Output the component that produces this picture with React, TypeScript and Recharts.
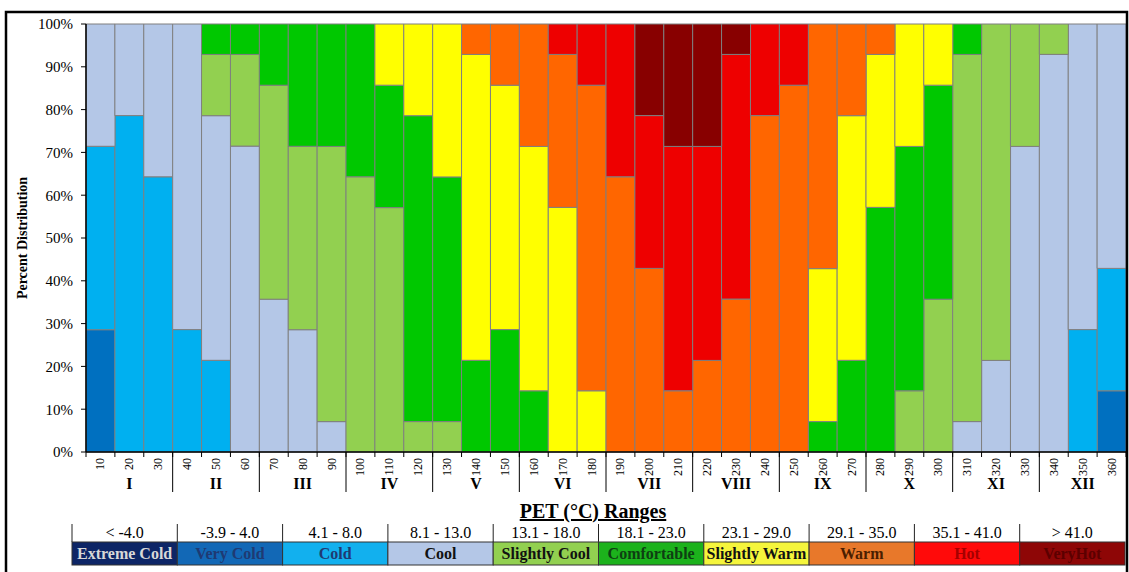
import React from "react";
import { BarChart, Bar, XAxis, YAxis } from "recharts";

// Day-of-year steps (10-day intervals) and month numerals
const days = [10, 20, 30, 40, 50, 60, 70, 80, 90, 100, 110, 120, 130, 140, 150, 160, 170, 180,
  190, 200, 210, 220, 230, 240, 250, 260, 270, 280, 290, 300, 310, 320, 330, 340, 350, 360];
const months = ["I", "II", "III", "IV", "V", "VI", "VII", "VIII", "IX", "X", "XI", "XII"];

// Percent of years falling in each PET class, per 10-day step
const extremeCold = [0, 0, 0, 0, 0, 0, 0, 0, 0, 0, 0, 0, 0, 0, 0, 0, 0, 0,
  0, 0, 0, 0, 0, 0, 0, 0, 0, 0, 0, 0, 0, 0, 0, 0, 0, 0];
const veryCold = [28.6, 0, 0, 0, 0, 0, 0, 0, 0, 0, 0, 0, 0, 0, 0, 0, 0, 0,
  0, 0, 0, 0, 0, 0, 0, 0, 0, 0, 0, 0, 0, 0, 0, 0, 0, 14.3];
const cold = [42.9, 78.6, 64.3, 28.6, 21.4, 0, 0, 0, 0, 0, 0, 0, 0, 0, 0, 0, 0, 0,
  0, 0, 0, 0, 0, 0, 0, 0, 0, 0, 0, 0, 0, 0, 0, 0, 28.6, 28.6];
const cool = [28.6, 21.4, 35.7, 71.4, 57.1, 71.4, 35.7, 28.6, 7.1, 0, 0, 0, 0, 0, 0, 0, 0, 0,
  0, 0, 0, 0, 0, 0, 0, 0, 0, 0, 0, 0, 7.1, 21.4, 71.4, 92.9, 71.4, 57.1];
const slightlyCool = [0, 0, 0, 0, 14.3, 21.4, 50.0, 42.9, 64.3, 64.3, 57.1, 7.1, 7.1, 0, 0, 0, 0, 0,
  0, 0, 0, 0, 0, 0, 0, 0, 0, 0, 14.3, 35.7, 85.7, 78.6, 28.6, 7.1, 0, 0];
const comfortable = [0, 0, 0, 0, 7.1, 7.1, 14.3, 28.6, 28.6, 35.7, 28.6, 71.4, 57.1, 21.4, 28.6, 14.3, 0, 0,
  0, 0, 0, 0, 0, 0, 0, 7.1, 21.4, 57.1, 57.1, 50.0, 7.1, 0, 0, 0, 0, 0];
const slightlyWarm = [0, 0, 0, 0, 0, 0, 0, 0, 0, 0, 14.3, 21.4, 35.7, 71.4, 57.1, 57.1, 57.1, 14.3,
  0, 0, 0, 0, 0, 0, 0, 35.7, 57.1, 35.7, 28.6, 14.3, 0, 0, 0, 0, 0, 0];
const warm = [0, 0, 0, 0, 0, 0, 0, 0, 0, 0, 0, 0, 0, 7.1, 14.3, 28.6, 35.7, 71.4,
  64.3, 42.9, 14.3, 21.4, 35.7, 78.6, 85.7, 57.1, 21.4, 7.1, 0, 0, 0, 0, 0, 0, 0, 0];
const hot = [0, 0, 0, 0, 0, 0, 0, 0, 0, 0, 0, 0, 0, 0, 0, 0, 7.1, 14.3,
  35.7, 35.7, 57.1, 50.0, 57.1, 21.4, 14.3, 0, 0, 0, 0, 0, 0, 0, 0, 0, 0, 0];
const veryHot = [0, 0, 0, 0, 0, 0, 0, 0, 0, 0, 0, 0, 0, 0, 0, 0, 0, 0,
  0, 21.4, 28.6, 28.6, 7.1, 0, 0, 0, 0, 0, 0, 0, 0, 0, 0, 0, 0, 0];

// PET classes, coldest first (bottom of the stack)
const classKeys = ["extremeCold", "veryCold", "cold", "cool", "slightlyCool",
  "comfortable", "slightlyWarm", "warm", "hot", "veryHot"];
const classNames = ["Extreme Cold", "Very Cold", "Cold", "Cool", "Slightly Cool",
  "Comfortable", "Slightly Warm", "Warm", "Hot", "VeryHot"];
const classRanges = ["< -4.0", "-3.9 - 4.0", "4.1 - 8.0", "8.1 - 13.0", "13.1 - 18.0",
  "18.1 - 23.0", "23.1 - 29.0", "29.1 - 35.0", "35.1 - 41.0", "> 41.0"];
const barColors = ["#002060", "#0070C0", "#00B0F0", "#B4C7E7", "#92D050",
  "#00C800", "#FFFF00", "#FF6600", "#EE0000", "#880000"];
const keyColors = ["#0D2566", "#1268B6", "#12B0EE", "#B4C7E7", "#92D050",
  "#1CB21C", "#F5F53C", "#E8782A", "#FF0A0A", "#8E0606"];
const keyTextColors = ["#D8D8D8", "#1F3A73", "#1F3A73", "#111111", "#111111",
  "#0E3F12", "#111111", "#4A1E00", "#A50000", "#5C0000"];

const series = [extremeCold, veryCold, cold, cool, slightlyCool,
  comfortable, slightlyWarm, warm, hot, veryHot];

const data = days.map((d, i) => {
  const row: Record<string, number | string> = { day: String(d) };
  classKeys.forEach((k, j) => {
    row[k] = series[j][i];
  });
  return row;
});

const SERIF = '"Liberation Serif", "Times New Roman", serif';

function DayTick(props: any) {
  const { x, y, payload, width, visibleTicksCount } = props;
  const i: number = props.index ?? payload.index;
  const half = payload?.offset || width / visibleTicksCount / 2;
  const left = x - half;
  const right = x + half;
  const last = i === days.length - 1;
  return (
    <g>
      <line x1={left} y1={y} x2={left} y2={y + 5} stroke="#000" strokeWidth={1} />
      {last && <line x1={right} y1={y} x2={right} y2={y + 5} stroke="#000" strokeWidth={1} />}
      {i % 3 === 0 && i > 0 && (
        <line x1={left} y1={y} x2={left} y2={y + 40} stroke="#000" strokeWidth={1} />
      )}
      <text
        transform={`translate(${x},${y + 6}) rotate(-90)`}
        textAnchor="end"
        dominantBaseline="central"
        fontSize={12}
        fontFamily={SERIF}
        fill="#000"
      >
        {payload.value}
      </text>
      {i % 3 === 1 && (
        <text
          x={x}
          y={y + 37}
          textAnchor="middle"
          fontSize={16}
          fontWeight="bold"
          fontFamily={SERIF}
          fill="#000"
        >
          {months[(i - 1) / 3]}
        </text>
      )}
    </g>
  );
}

function ClassKey() {
  const x0 = 72;
  const colW = 105.3;
  return (
    <g fontFamily={SERIF}>
      <text
        x={593}
        y={518}
        textAnchor="middle"
        fontSize={20}
        fontWeight="bold"
        textDecoration="underline"
        fill="#000"
      >
        PET (°C) Ranges
      </text>
      {classRanges.map((r, i) => (
        <g key={r}>
          <line x1={x0 + i * colW} y1={524} x2={x0 + i * colW} y2={542} stroke="#222" />
          <text
            x={x0 + i * colW + colW / 2}
            y={538}
            textAnchor="middle"
            fontSize={16}
            fill="#000"
          >
            {r}
          </text>
        </g>
      ))}
      {classNames.map((n, i) => (
        <g key={n}>
          <rect
            x={x0 + i * colW}
            y={542}
            width={colW}
            height={23}
            fill={keyColors[i]}
            stroke="#333"
            strokeWidth={1}
          />
          <text
            x={x0 + i * colW + colW / 2}
            y={559}
            textAnchor="middle"
            fontSize={16}
            fontWeight="bold"
            fill={keyTextColors[i]}
          >
            {n}
          </text>
        </g>
      ))}
    </g>
  );
}

export default function App() {
  return (
    <div
      style={{
        position: "absolute",
        left: 0,
        top: 0,
        width: 1129,
        height: 572,
        overflow: "hidden",
        background: "#fff",
      }}
    >
      <BarChart
        width={1129}
        height={572}
        data={data}
        stackOffset="expand"
        barCategoryGap={0}
        margin={{ top: 24, right: 3, bottom: 70, left: 0 }}
      >
        <XAxis
          dataKey="day"
          interval={0}
          height={50}
          tickLine={false}
          tickSize={0}
          tickMargin={0}
          axisLine={{ stroke: "#000", strokeWidth: 1.5 }}
          tick={<DayTick />}
        />
        <YAxis
          width={86}
          domain={[0, 1]}
          ticks={[0, 0.1, 0.2, 0.3, 0.4, 0.5, 0.6, 0.7, 0.8, 0.9, 1]}
          tickFormatter={(v: number) => `${Math.round(v * 100)}%`}
          tickSize={5}
          tickMargin={8}
          axisLine={{ stroke: "#000", strokeWidth: 1.5 }}
          tickLine={{ stroke: "#000" }}
          tick={{ fontSize: 15, fill: "#000", fontFamily: SERIF }}
        />
        {classKeys.map((k, j) => (
          <Bar
            key={k}
            dataKey={k}
            name={classNames[j]}
            stackId="pet"
            fill={barColors[j]}
            stroke="#7F7F7F"
            strokeWidth={1}
            isAnimationActive={false}
          />
        ))}
      </BarChart>
      <svg
        width={1129}
        height={572}
        style={{ position: "absolute", left: 0, top: 0, pointerEvents: "none" }}
      >
        <rect x={6} y={12} width={1121} height={620} fill="none" stroke="#000" strokeWidth={2.5} />
        <text
          transform="translate(27,238) rotate(-90)"
          textAnchor="middle"
          fontSize={14}
          fontWeight="bold"
          fontFamily={SERIF}
          fill="#000"
        >
          Percent Distribution
        </text>
        <ClassKey />
      </svg>
    </div>
  );
}
